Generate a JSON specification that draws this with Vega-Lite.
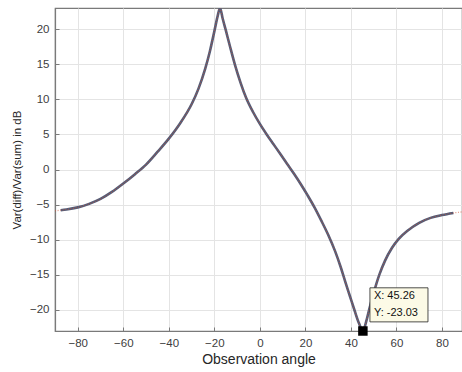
{
  "$schema": "https://vega.github.io/schema/vega-lite/v6.json",
  "width": 407,
  "height": 323,
  "autosize": {"type": "none"},
  "padding": {"left": 55, "top": 8, "right": 0, "bottom": 41},
  "background": "white",
  "config": {
    "view": {"stroke": "#7a7a7a", "strokeWidth": 1.2},
    "font": "Liberation Sans",
    "axis": {
      "domainColor": "#7a7a7a",
      "domainWidth": 1.2,
      "tickColor": "#7a7a7a",
      "tickSize": -4,
      "gridColor": "#e4e4e4",
      "gridWidth": 1,
      "labelFont": "Liberation Sans",
      "labelFontSize": 11.5,
      "labelColor": "#404040",
      "titleFont": "Liberation Sans",
      "titleFontWeight": "normal",
      "titleColor": "#262626"
    }
  },
  "datasets": {
    "curve": [
      {"x": -90, "y": -5.9}, {"x": -87.5, "y": -5.8}, {"x": -85, "y": -5.7}, {"x": -80, "y": -5.4},
      {"x": -75, "y": -4.9}, {"x": -70, "y": -4.2}, {"x": -65, "y": -3.2}, {"x": -60, "y": -2.0},
      {"x": -55, "y": -0.7}, {"x": -50, "y": 0.7}, {"x": -45, "y": 2.5}, {"x": -40, "y": 4.4},
      {"x": -35, "y": 6.6}, {"x": -30, "y": 9.3}, {"x": -27, "y": 11.5}, {"x": -24, "y": 14.4},
      {"x": -22, "y": 16.8}, {"x": -20, "y": 19.7}, {"x": -18.6, "y": 21.8}, {"x": -17.5, "y": 23.03},
      {"x": -16.4, "y": 21.6}, {"x": -15, "y": 19.9}, {"x": -13, "y": 17.4}, {"x": -11, "y": 15.0},
      {"x": -8.5, "y": 12.4}, {"x": -6, "y": 10.2}, {"x": -3, "y": 8.2}, {"x": 0, "y": 6.5},
      {"x": 3, "y": 5.0}, {"x": 6, "y": 3.6}, {"x": 9, "y": 2.2}, {"x": 12, "y": 0.8},
      {"x": 15, "y": -0.6}, {"x": 18, "y": -2.1}, {"x": 21, "y": -3.7}, {"x": 24, "y": -5.4},
      {"x": 27, "y": -7.3}, {"x": 30, "y": -9.3}, {"x": 33, "y": -11.6}, {"x": 35.5, "y": -13.9},
      {"x": 37.5, "y": -16.0}, {"x": 39.5, "y": -18.0}, {"x": 41.5, "y": -20.0}, {"x": 43.5, "y": -21.9},
      {"x": 45.26, "y": -23.03}, {"x": 46.7, "y": -21.7}, {"x": 48, "y": -20.0}, {"x": 50, "y": -17.6},
      {"x": 52.5, "y": -15.0}, {"x": 55, "y": -13.0}, {"x": 58, "y": -11.2}, {"x": 61, "y": -9.9},
      {"x": 65, "y": -8.7}, {"x": 70, "y": -7.6}, {"x": 75, "y": -6.9}, {"x": 80, "y": -6.5},
      {"x": 85, "y": -6.2}, {"x": 90, "y": -6.0}
    ],
    "tip": [{"x": 45.26, "y": -23.03}],
    "box": [{"x1": 48.35, "x2": 73.85, "y1": -16.87, "y2": -21.73}],
    "labels": [
      {"x": 50.1, "y": -18.1, "t": "X: 45.26"},
      {"x": 50.1, "y": -20.5, "t": "Y: -23.03"}
    ]
  },
  "layer": [
    {
      "data": {"name": "curve"},
      "transform": [{"filter": "datum.x >= -87.5 && datum.x <= 85"}],
      "mark": {"type": "line", "color": "#545d78", "strokeWidth": 2.6, "interpolate": "monotone", "clip": true},
      "encoding": {
        "x": {
          "field": "x", "type": "quantitative",
          "scale": {"domain": [-90, 88.8], "nice": false, "zero": false},
          "axis": {
            "orient": "bottom",
            "values": [-80, -60, -40, -20, 0, 20, 40, 60, 80],
            "grid": true,
            "labelPadding": 10,
            "title": "Observation angle",
            "titleFontSize": 14,
            "titlePadding": 4
          }
        },
        "y": {
          "field": "y", "type": "quantitative",
          "scale": {"domain": [-23.03, 23.03], "nice": false, "zero": false},
          "axis": {
            "orient": "left",
            "values": [-20, -15, -10, -5, 0, 5, 10, 15, 20],
            "grid": true,
            "labelPadding": 10,
            "title": "Var(diff)/Var(sum) in dB",
            "titleFontSize": 11.5,
            "titlePadding": 7
          }
        }
      }
    },
    {
      "data": {"name": "curve"},
      "mark": {"type": "line", "color": "#d2502f", "strokeWidth": 1.2, "strokeDash": [1, 1.6], "opacity": 0.6, "interpolate": "monotone", "clip": true},
      "encoding": {
        "x": {"field": "x", "type": "quantitative"},
        "y": {"field": "y", "type": "quantitative"}
      }
    },
    {
      "data": {"name": "box"},
      "mark": {"type": "rect", "fill": "#fcfae6", "stroke": "#222222", "strokeWidth": 0.8},
      "encoding": {
        "x": {"field": "x1", "type": "quantitative"},
        "x2": {"field": "x2"},
        "y": {"field": "y1", "type": "quantitative"},
        "y2": {"field": "y2"}
      }
    },
    {
      "data": {"name": "labels"},
      "mark": {"type": "text", "align": "left", "baseline": "middle", "fontSize": 11, "color": "#111111", "font": "Liberation Sans"},
      "encoding": {
        "x": {"field": "x", "type": "quantitative"},
        "y": {"field": "y", "type": "quantitative"},
        "text": {"field": "t"}
      }
    },
    {
      "data": {"name": "tip"},
      "mark": {"type": "point", "shape": "square", "filled": true, "color": "#000000", "size": 90, "opacity": 1},
      "encoding": {
        "x": {"field": "x", "type": "quantitative"},
        "y": {"field": "y", "type": "quantitative"}
      }
    }
  ]
}
